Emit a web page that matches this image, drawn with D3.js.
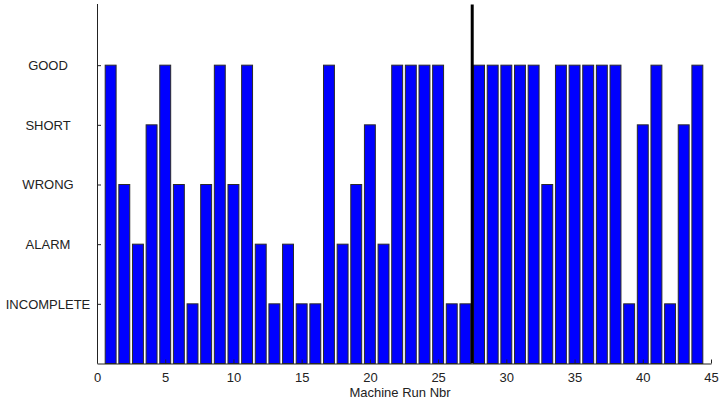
<!DOCTYPE html>
<html>
<head>
<meta charset="utf-8">
<script src="https://cdn.jsdelivr.net/npm/d3@7"></script>
<style>
  html, body { margin: 0; padding: 0; background: #fff; }
  svg { display: block; }
  text { font-family: "Liberation Sans", Arial, sans-serif; font-size: 13px; fill: #222; }
</style>
</head>
<body>
<svg id="chart" width="719" height="404"></svg>
<script>
// Result of each machine run (1 = INCOMPLETE ... 5 = GOOD)
const runs = d3.range(1, 45);
const outcomes = [5,3,2,4,5,3,1,3,5,3,5,2,1,2,1,1,5,2,3,4,2,5,5,5,5,1,1,
                  5,5,5,5,5,3,5,5,5,5,5,1,4,5,1,4,5];
const statusLabels = ["INCOMPLETE", "ALARM", "WRONG", "SHORT", "GOOD"];
const statusLevels = [1, 2, 3, 4, 5];
const xTicks = [0, 5, 10, 15, 20, 25, 30, 35, 40, 45];
const changeoverRun = 27.5;
const xTitle = "Machine Run Nbr";

const svg = d3.select("#chart");
const plotLeft = 97, plotRight = 711, plotTop = 4, plotBottom = 363.5;

const x = d3.scaleLinear().domain([0, 45]).range([plotLeft, plotRight]);
const y = d3.scaleLinear().domain([0, 6]).range([plotBottom, plotTop + 1.5]);
const barW = (x(1) - x(0)) * 0.8;

// bars
svg.append("g").selectAll("rect")
  .data(runs.map((r, i) => ({ run: r, v: outcomes[i] })))
  .join("rect")
  .attr("x", d => x(d.run) - barW / 2)
  .attr("width", barW)
  .attr("y", d => y(d.v))
  .attr("height", d => y(0) - y(d.v))
  .attr("fill", "#0000ff")
  .attr("stroke", "#2a2a2a")
  .attr("stroke-width", 1);

// changeover marker
svg.append("line")
  .attr("x1", x(changeoverRun)).attr("x2", x(changeoverRun))
  .attr("y1", plotTop + 0.5).attr("y2", plotBottom)
  .attr("stroke", "#000").attr("stroke-width", 3);

// x axis
const xAxis = svg.append("g").attr("transform", `translate(0,${plotBottom})`)
  .call(d3.axisBottom(x).tickValues(xTicks).tickSize(-4).tickPadding(9).tickSizeOuter(0));
xAxis.select(".domain").attr("stroke", "#222");
xAxis.selectAll(".tick line").attr("stroke", "#222");
xAxis.selectAll("text").attr("font-size", 13).attr("fill", "#222")
  .attr("font-family", "'Liberation Sans', Arial, sans-serif");

// y axis
const yAxis = svg.append("g").attr("transform", `translate(${plotLeft},0)`)
  .call(d3.axisLeft(y).tickValues(statusLevels)
        .tickFormat(d => statusLabels[d - 1]).tickSize(-4).tickSizeOuter(0));
yAxis.select(".domain").attr("stroke", "#222").attr("d", `M0.5,${plotTop}V${plotBottom}`);
yAxis.selectAll(".tick line").attr("stroke", "#222");
yAxis.selectAll("text").attr("text-anchor", "middle").attr("x", -49)
  .attr("font-size", 13).attr("fill", "#222")
  .attr("font-family", "'Liberation Sans', Arial, sans-serif");

// axis title
svg.append("text")
  .attr("x", 400).attr("y", 397)
  .attr("text-anchor", "middle")
  .text(xTitle);
</script>
</body>
</html>
